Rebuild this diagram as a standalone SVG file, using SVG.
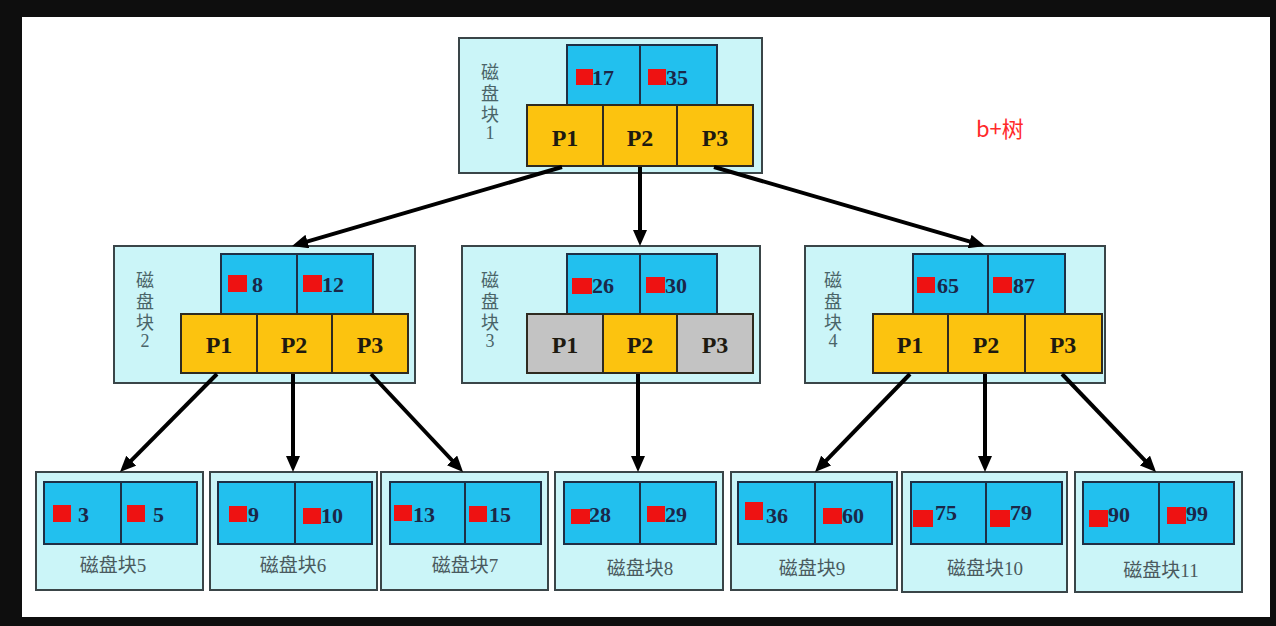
<svg xmlns="http://www.w3.org/2000/svg" width="1276" height="626" viewBox="0 0 1276 626">
<style>
.outer{fill:#cbf5f8;stroke:#3a4548;stroke-width:2}
.key{fill:#22c0ee;stroke:#1e2f45;stroke-width:2}
.p{fill:#fcc30f;stroke:#2e2a20;stroke-width:2}
.g{fill:#c3c3c3;stroke:#2e2a20;stroke-width:2}
.red{fill:#ee1212}
.num{font-family:"Liberation Serif",serif;font-weight:bold;font-size:22px;fill:#1b2748}
.pt{font-family:"Liberation Serif",serif;font-weight:bold;font-size:24px;fill:#1e1a10;text-anchor:middle}
.vl{font-family:"Liberation Serif","Noto Sans CJK SC",serif;font-size:18px;fill:#4a6468;text-anchor:middle}
.ll{font-family:"Liberation Serif","Noto Sans CJK SC",serif;font-size:19px;fill:#4a5a5e;text-anchor:middle}
.arr{stroke:#000;stroke-width:4;fill:none;marker-end:url(#ah)}
</style>
<defs>
<marker id="ah" markerUnits="userSpaceOnUse" markerWidth="16" markerHeight="14" refX="5" refY="7" orient="auto">
<path d="M0,0 L16,7 L0,14 z" fill="#000"/>
</marker>
</defs>
<rect x="0" y="0" width="1276" height="626" fill="#0e0e0e"/>
<rect x="22" y="17" width="1248" height="600" fill="#ffffff"/>

<g id="block1">
<rect class="outer" x="459" y="38" width="303" height="135"/>
<rect class="key" x="567" y="45" width="73" height="60"/>
<rect class="key" x="640" y="45" width="77" height="60"/>
<rect class="p" x="527" y="105" width="76" height="61"/>
<rect class="p" x="603" y="105" width="74" height="61"/>
<rect class="p" x="677" y="105" width="76" height="61"/>
<rect class="red" x="576" y="69" width="17" height="16"/>
<text class="num" x="592" y="85">17</text>
<rect class="red" x="648" y="69" width="18" height="16"/>
<text class="num" x="666" y="85">35</text>
<text class="pt" x="565" y="146">P1</text>
<text class="pt" x="640" y="146">P2</text>
<text class="pt" x="715" y="146">P3</text>
<text class="vl" x="490"><tspan x="490" y="79">磁</tspan><tspan x="490" y="100">盘</tspan><tspan x="490" y="121">块</tspan><tspan x="490" y="139">1</tspan></text>
</g>

<g id="block2">
<rect class="outer" x="114" y="246" width="301" height="137"/>
<rect class="key" x="221" y="254" width="76" height="60"/>
<rect class="key" x="297" y="254" width="76" height="60"/>
<rect class="p" x="181" y="314" width="76" height="59"/>
<rect class="p" x="257" y="314" width="75" height="59"/>
<rect class="p" x="332" y="314" width="76" height="59"/>
<rect class="red" x="228" y="275" width="19" height="17"/>
<text class="num" x="252" y="292">8</text>
<rect class="red" x="303" y="275" width="19" height="17"/>
<text class="num" x="322" y="292">12</text>
<text class="pt" x="219" y="353">P1</text>
<text class="pt" x="294" y="353">P2</text>
<text class="pt" x="370" y="353">P3</text>
<text class="vl" x="145"><tspan x="145" y="287">磁</tspan><tspan x="145" y="308">盘</tspan><tspan x="145" y="329">块</tspan><tspan x="145" y="347">2</tspan></text>
</g>

<g id="block3">
<rect class="outer" x="462" y="246" width="298" height="137"/>
<rect class="key" x="567" y="254" width="73" height="60"/>
<rect class="key" x="640" y="254" width="77" height="60"/>
<rect class="g" x="527" y="314" width="76" height="59"/>
<rect class="p" x="603" y="314" width="74" height="59"/>
<rect class="g" x="677" y="314" width="76" height="59"/>
<rect class="red" x="572" y="278" width="20" height="16"/>
<text class="num" x="592" y="293">26</text>
<rect class="red" x="646" y="277" width="19" height="16"/>
<text class="num" x="665" y="293">30</text>
<text class="pt" x="565" y="353">P1</text>
<text class="pt" x="640" y="353">P2</text>
<text class="pt" x="715" y="353">P3</text>
<text class="vl" x="490"><tspan x="490" y="287">磁</tspan><tspan x="490" y="308">盘</tspan><tspan x="490" y="329">块</tspan><tspan x="490" y="347">3</tspan></text>
</g>

<g id="block4">
<rect class="outer" x="805" y="246" width="300" height="137"/>
<rect class="key" x="913" y="254" width="75" height="60"/>
<rect class="key" x="988" y="254" width="77" height="60"/>
<rect class="p" x="873" y="314" width="75" height="59"/>
<rect class="p" x="948" y="314" width="77" height="59"/>
<rect class="p" x="1025" y="314" width="77" height="59"/>
<rect class="red" x="917" y="277" width="18" height="16"/>
<text class="num" x="937" y="293">65</text>
<rect class="red" x="993" y="277" width="19" height="16"/>
<text class="num" x="1013" y="293">87</text>
<text class="pt" x="910" y="353">P1</text>
<text class="pt" x="986" y="353">P2</text>
<text class="pt" x="1063" y="353">P3</text>
<text class="vl" x="833"><tspan x="833" y="287">磁</tspan><tspan x="833" y="308">盘</tspan><tspan x="833" y="329">块</tspan><tspan x="833" y="347">4</tspan></text>
</g>

<g id="block5">
<rect class="outer" x="36" y="472" width="167" height="118"/>
<rect class="key" x="44" y="482" width="77" height="62"/>
<rect class="key" x="121" y="482" width="76" height="62"/>
<rect class="red" x="53" y="505" width="18" height="17"/>
<text class="num" x="78" y="522">3</text>
<rect class="red" x="127" y="505" width="18" height="17"/>
<text class="num" x="153" y="522">5</text>
<text class="ll" x="113" y="572">磁盘块5</text>
</g>

<g id="block6">
<rect class="outer" x="210" y="472" width="167" height="118"/>
<rect class="key" x="218" y="482" width="77" height="62"/>
<rect class="key" x="295" y="482" width="77" height="62"/>
<rect class="red" x="229" y="506" width="18" height="16"/>
<text class="num" x="248" y="522">9</text>
<rect class="red" x="303" y="508" width="18" height="16"/>
<text class="num" x="321" y="523">10</text>
<text class="ll" x="293" y="572">磁盘块6</text>
</g>

<g id="block7">
<rect class="outer" x="381" y="472" width="167" height="118"/>
<rect class="key" x="390" y="482" width="75" height="62"/>
<rect class="key" x="465" y="482" width="76" height="62"/>
<rect class="red" x="394" y="505" width="18" height="16"/>
<text class="num" x="413" y="522">13</text>
<rect class="red" x="469" y="506" width="18" height="16"/>
<text class="num" x="489" y="522">15</text>
<text class="ll" x="465" y="572">磁盘块7</text>
</g>

<g id="block8">
<rect class="outer" x="555" y="472" width="168" height="118"/>
<rect class="key" x="564" y="482" width="76" height="62"/>
<rect class="key" x="640" y="482" width="76" height="62"/>
<rect class="red" x="571" y="509" width="19" height="15"/>
<text class="num" x="589" y="522">28</text>
<rect class="red" x="647" y="506" width="18" height="16"/>
<text class="num" x="665" y="522">29</text>
<text class="ll" x="640" y="575">磁盘块8</text>
</g>

<g id="block9">
<rect class="outer" x="731" y="472" width="166" height="118"/>
<rect class="key" x="738" y="482" width="77" height="62"/>
<rect class="key" x="815" y="482" width="77" height="62"/>
<rect class="red" x="745" y="502" width="18" height="18"/>
<text class="num" x="766" y="523">36</text>
<rect class="red" x="823" y="508" width="19" height="16"/>
<text class="num" x="842" y="523">60</text>
<text class="ll" x="812" y="575">磁盘块9</text>
</g>

<g id="block10">
<rect class="outer" x="902" y="472" width="165" height="120"/>
<rect class="key" x="911" y="482" width="75" height="62"/>
<rect class="key" x="986" y="482" width="76" height="62"/>
<rect class="red" x="913" y="510" width="20" height="17"/>
<text class="num" x="935" y="520">75</text>
<rect class="red" x="990" y="510" width="20" height="17"/>
<text class="num" x="1010" y="520">79</text>
<text class="ll" x="985" y="575">磁盘块10</text>
</g>

<g id="block11">
<rect class="outer" x="1075" y="472" width="167" height="120"/>
<rect class="key" x="1083" y="482" width="76" height="62"/>
<rect class="key" x="1159" y="482" width="75" height="62"/>
<rect class="red" x="1089" y="510" width="19" height="17"/>
<text class="num" x="1108" y="522">90</text>
<rect class="red" x="1167" y="507" width="19" height="17"/>
<text class="num" x="1186" y="521">99</text>
<text class="ll" x="1161" y="577">磁盘块11</text>
</g>

<g id="connectors">
<line class="arr" x1="562" y1="167" x2="302.6" y2="242.9"/>
<line class="arr" x1="640" y1="167" x2="640" y2="235"/>
<line class="arr" x1="714" y1="167" x2="974.4" y2="242.9"/>
<line class="arr" x1="217" y1="374" x2="127.7" y2="464.2"/>
<line class="arr" x1="293" y1="374" x2="293" y2="461"/>
<line class="arr" x1="371" y1="374" x2="455.5" y2="464"/>
<line class="arr" x1="638" y1="374" x2="638" y2="461"/>
<line class="arr" x1="910" y1="374" x2="822.7" y2="464.1"/>
<line class="arr" x1="985" y1="374" x2="985" y2="461"/>
<line class="arr" x1="1062" y1="374" x2="1148.4" y2="464.1"/>
</g>

<g id="title">
<text x="976" y="137" font-family="'Noto Sans CJK SC','Noto Sans',sans-serif" font-size="22" fill="#ff2a2a">b+树</text>
</g>
</svg>
